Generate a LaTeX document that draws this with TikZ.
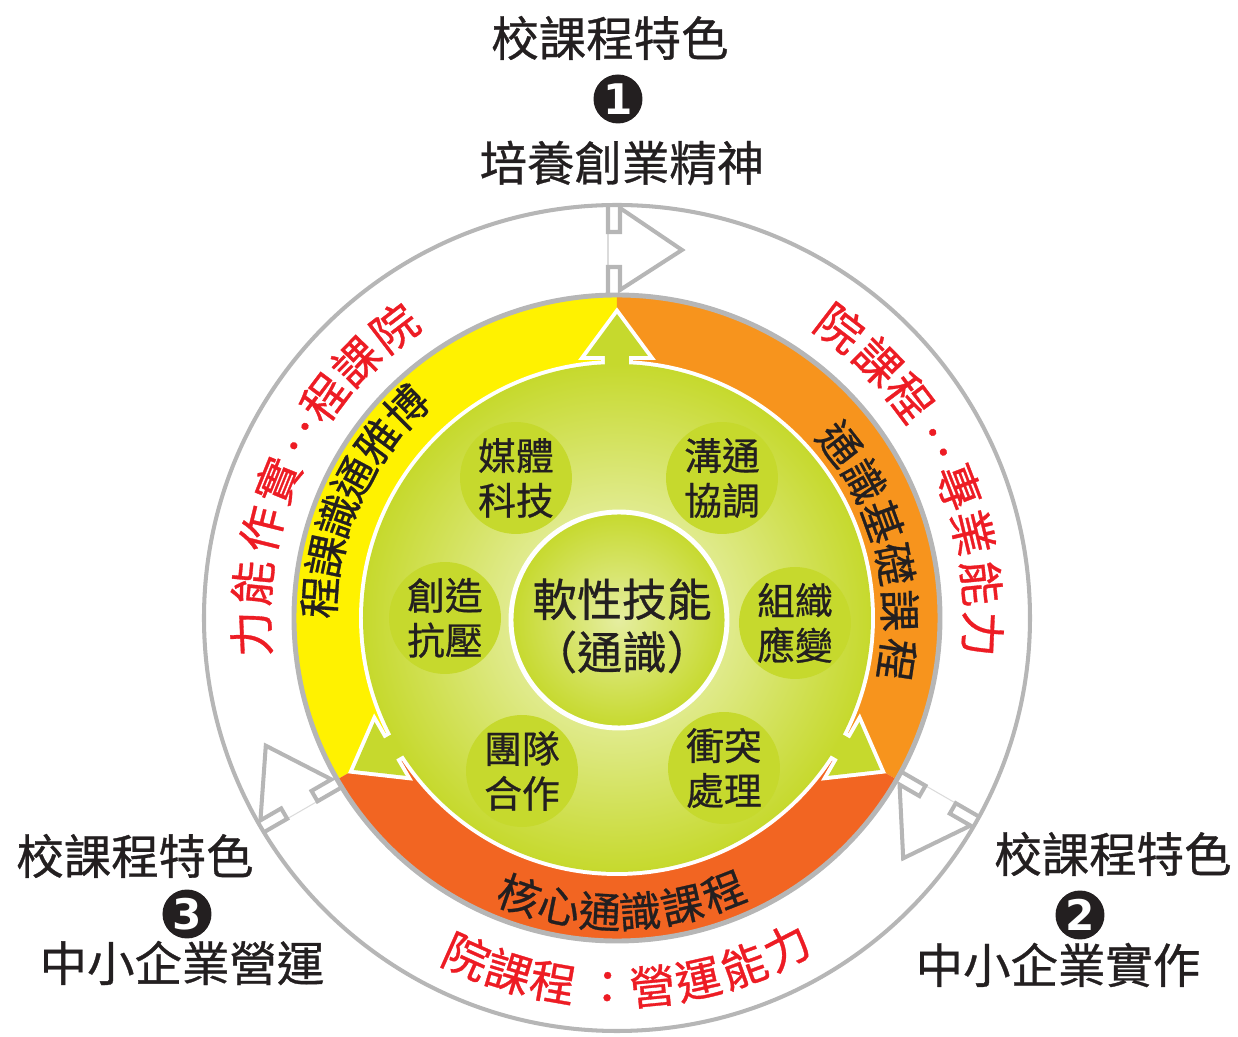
\documentclass[tikz,border=0pt]{standalone}
\usepackage{fontspec}
\setmainfont{Noto Sans CJK TC}[FakeBold=0.7]
\newfontfamily\digitfont{DejaVu Sans}
\usepackage{tikz}

\definecolor{ylw}{RGB}{255,242,0}
\definecolor{org}{RGB}{247,148,29}
\definecolor{rdo}{RGB}{242,101,34}
\definecolor{lime}{RGB}{198,217,45}
\definecolor{limelt}{RGB}{244,248,214}
\definecolor{rim}{RGB}{182,182,182}
\definecolor{redtxt}{RGB}{237,28,36}
\definecolor{ink}{RGB}{35,31,32}

\begin{document}
\begin{tikzpicture}[x=0.02cm,y=0.02cm,
  rimline/.style={draw=rim,line width=2.3pt},
  toplabel/.style={text=ink,inner sep=0pt,font=\fontsize{27}{30}\selectfont},
  bullet/.style={circle,fill=ink,text=white,minimum size=0.98cm,inner sep=0pt,font=\digitfont\bfseries\fontsize{24}{24}\selectfont},
  redch/.style={text=redtxt,inner sep=0pt,font=\fontsize{26}{26}\selectfont},
  bandch/.style={text=ink,inner sep=0pt,font=\fontsize{24}{24}\selectfont},
  skill/.style={circle,fill=lime,minimum size=2.24cm,inner sep=0pt,align=center,text=ink,font=\fontsize{21.5}{25.5}\selectfont}]
  \useasboundingbox (-617,-419) rectangle (621,618);

  % outer ring and the three course bands
  \draw[rimline] (0,0) circle [radius=413];
  \fill[ylw] (0,0) -- (90:323) arc (90:210:323) -- cycle;
  \fill[org] (0,0) -- (90:323) arc (90:-30:323) -- cycle;
  \fill[rdo] (0,0) -- (210:323) arc (210:330:323) -- cycle;
  \draw[rim,line width=2.8pt] (0,0) circle [radius=323];

  % hollow arrows, clockwise
  \foreach \r in {0,-120,120} {
    \begin{scope}[rotate=\r]
      \draw[rim!50,line width=0.6pt] (-9,386) -- (-9,351);
      \draw[rimline,line join=miter] (-9,413) -- (-9,386) -- (3,386) -- (3,410) -- (65,368)
        -- (3,328) -- (3,351) -- (-9,351) -- (-9,323);
    \end{scope}
  }

  % green hub with three arrows
  \draw[white,line width=4.5pt] (0,0) circle [radius=254];
  \foreach \r in {0,-120,120}
    \draw[white,line width=4.5pt,line join=miter,rotate=\r] (-12,200) -- (-12,262) -- (-31,262)
      -- (0,304) -- (31,262) -- (12,262) -- (12,200) -- cycle;
  \foreach \r in {0,-120,120}
    \fill[lime,rotate=\r] (-12,200) -- (-12,262) -- (-31,262)
      -- (0,304) -- (31,262) -- (12,262) -- (12,200) -- cycle;
  \shade[inner color=limelt,outer color=lime] (0,0) circle [radius=254];
  \path[draw=white,line width=2.8pt,inner color=lime!45!white,outer color=lime] (2,-2) circle [radius=108];

  \node[align=center,text=ink,inner sep=0pt,font=\fontsize{25.5}{30}\selectfont] (soft) at (5,-8) {軟性技能\\（通識）};

  \node[skill] (media) at (-101,140) {媒體\\科技};
  \node[skill] (comm) at (105,140) {溝通\\協調};
  \node[skill] (create) at (-172,0) {創造\\抗壓};
  \node[skill] (org) at (178,-5) {組織\\應變};
  \node[skill] (team) at (-95,-153) {團隊\\合作};
  \node[skill] (conf) at (107,-150) {衝突\\處理};

  % band texts
  \foreach \a/\ch [count=\i] in {176/程,168/課,160/識,152/通,143.5/雅,135/博}
    \node[bandch,rotate=\a-90] (lb\i) at (\a:298) {\ch};
  \foreach \a/\ch [count=\i] in {38/通,29/識,20/基,11/礎,1.5/課,-8.5/程}
    \node[bandch,rotate=\a-90] (rb\i) at (\a:283) {\ch};
  \foreach \a/\ch [count=\i] in {-109.4/核,-101.3/心,-93.3/通,-85.5/識,-77.2/課,-68.7/程}
    \node[bandch,rotate=\a+90] (bb\i) at (\a:294) {\ch};

  % red ring texts
  \foreach \a/\ch [count=\i] in {182.5/力,174.5/能,166/作,158/實,143/程,135.5/課,127.5/院}
    \node[redch,rotate=\a-90] (lr\i) at (\a:366) {\ch};
  \node[redch,rotate=150] (lrc) at (150:366) {：};
  \foreach \a/\ch [count=\i] in {52.5/院,44.5/課,37/程,21/專,13.5/業,5.5/能,-2.5/力}
    \node[redch,rotate=\a-90] (rr\i) at (\a:366) {\ch};
  \node[redch,rotate=28.5] (rrc) at (28.5:366) {：};
  \foreach \a/\ch [count=\i] in {-114/院,-107/課,-100/程,-91.5/：,-84.5/營,-77.3/運,-70/能,-62.7/力}
    \node[redch,rotate=\a+90] (br\i) at (\a:370) {\ch};

  % school features
  \node[toplabel] (feat1) at (-7,580) {校課程特色};
  \node[bullet] (num1) at (1,519) {1};
  \node[toplabel] (goal1) at (5,455) {培養創業精神};
  \node[toplabel] (feat2) at (496,-236) {校課程特色};
  \node[bullet] (num2) at (463,-297) {2};
  \node[toplabel] (goal2) at (441,-347) {中小企業實作};
  \node[toplabel] (feat3) at (-482,-238) {校課程特色};
  \node[bullet] (num3) at (-430,-296) {3};
  \node[toplabel] (goal3) at (-435,-345) {中小企業營運};
\end{tikzpicture}
\end{document}
